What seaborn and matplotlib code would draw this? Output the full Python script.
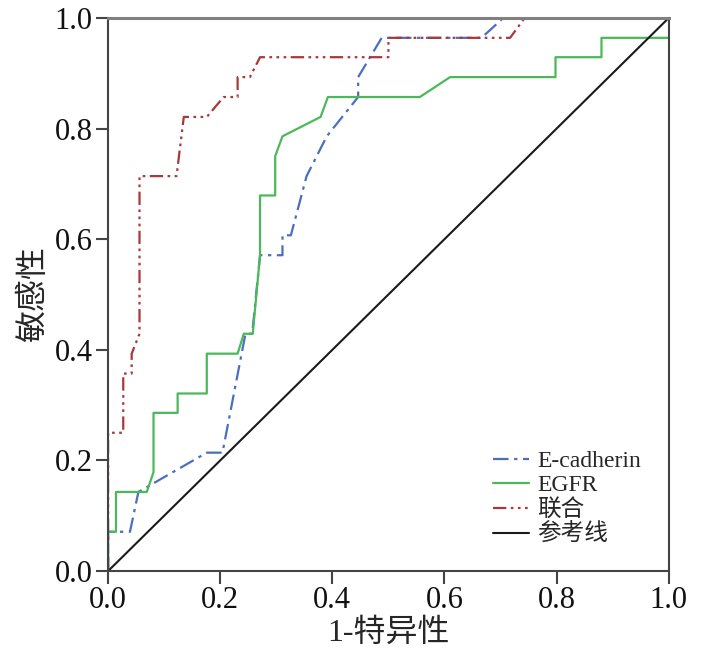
import matplotlib
matplotlib.use("Agg")
import matplotlib.pyplot as plt
import seaborn as sns
import numpy as np

# ROC curves
ecad_x = [0.0, 0.0, 0.039, 0.054, 0.176, 0.204, 0.245, 0.257, 0.271, 0.311, 0.311, 0.326,
          0.354, 0.390, 0.446, 0.446, 0.488, 0.666, 0.705, 1.0]
ecad_y = [0.0, 0.071, 0.071, 0.143, 0.214, 0.214, 0.429, 0.429, 0.571, 0.571, 0.607, 0.607,
          0.714, 0.786, 0.857, 0.893, 0.964, 0.964, 1.0, 1.0]

egfr_x = [0.0, 0.0, 0.014, 0.014, 0.069, 0.081, 0.081, 0.124, 0.124, 0.176, 0.176, 0.231,
          0.242, 0.258, 0.271, 0.271, 0.298, 0.298, 0.311, 0.379, 0.392, 0.556, 0.610,
          0.798, 0.798, 0.880, 0.880, 1.0]
egfr_y = [0.0, 0.071, 0.071, 0.143, 0.143, 0.179, 0.286, 0.286, 0.321, 0.321, 0.393, 0.393,
          0.429, 0.429, 0.571, 0.679, 0.679, 0.750, 0.786, 0.821, 0.857, 0.857, 0.893,
          0.893, 0.929, 0.929, 0.964, 0.964]

combo_x = [0.0, 0.0, 0.027, 0.027, 0.042, 0.042, 0.056, 0.056, 0.122, 0.135, 0.176, 0.206,
           0.231, 0.231, 0.253, 0.271, 0.500, 0.500, 0.717, 0.743, 1.0]
combo_y = [0.0, 0.250, 0.250, 0.357, 0.357, 0.393, 0.429, 0.714, 0.714, 0.821, 0.821, 0.857,
           0.857, 0.893, 0.893, 0.929, 0.929, 0.964, 0.964, 1.0, 1.0]

ref_x = [0.0, 1.0]
ref_y = [0.0, 1.0]

labels = ['E-cadherin', 'EGFR', '联合', '参考线']
ticks = [0.0, 0.2, 0.4, 0.6, 0.8, 1.0]

sns.set_style('white')
plt.rcParams['font.family'] = ['Liberation Serif', 'Noto Sans CJK SC', 'DejaVu Sans']
plt.rcParams['axes.unicode_minus'] = False

fig = plt.figure(figsize=(7.16, 6.64), dpi=100)
ax = fig.add_axes([0.151, 0.140, 0.783, 0.833])

sns.lineplot(x=ecad_x, y=ecad_y, sort=False, estimator=None, ax=ax, color='#4a6fbe',
             linewidth=1.6, linestyle=(0, (7, 2.5, 1.5, 2.5)), label=labels[0])
sns.lineplot(x=egfr_x, y=egfr_y, sort=False, estimator=None, ax=ax, color='#4cb85a',
             linewidth=1.6, label=labels[1])
sns.lineplot(x=combo_x, y=combo_y, sort=False, estimator=None, ax=ax, color='#a8393b',
             linewidth=1.6, linestyle=(0, (6, 2, 1.2, 2, 1.2, 2, 1.2, 2)), label=labels[2])
sns.lineplot(x=ref_x, y=ref_y, sort=False, estimator=None, ax=ax, color='#1a1a1a',
             linewidth=1.5, label=labels[3])

ax.set_xlim(0, 1)
ax.set_ylim(0, 1)
ax.set_xticks(ticks)
ax.set_yticks(ticks)
ax.set_xticklabels([f'{t:.1f}' for t in ticks])
ax.set_yticklabels([f'{t:.1f}' for t in ticks])
ax.tick_params(axis='both', direction='out', length=9, width=1.5, color='#444444',
               labelsize=22, pad=2, bottom=True, left=True, labelcolor='#111111')

for side in ['left', 'bottom', 'right']:
    ax.spines[side].set_color('#444444')
    ax.spines[side].set_linewidth(1.5)
ax.spines['top'].set_color('#808080')
ax.spines['top'].set_linewidth(2.2)

ax.set_xlabel('1-特异性', fontsize=23, labelpad=2)
ax.set_ylabel('敏感性', fontsize=23, labelpad=4)

ax.legend(loc='upper left', bbox_to_anchor=(0.67, 0.235), frameon=False, fontsize=17,
          handlelength=1.5, handletextpad=0.35, labelspacing=0.12, borderaxespad=0)

fig.savefig('out.png', dpi=100)
